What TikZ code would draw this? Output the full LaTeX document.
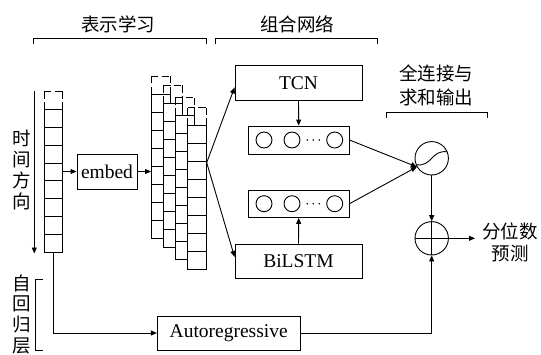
\documentclass[tikz,border=0pt]{standalone}
\usepackage{fontspec}
\setmainfont{Liberation Serif}
\newfontfamily\cjk{Noto Sans CJK SC}
\usetikzlibrary{arrows.meta,calc}
\begin{document}
\begin{tikzpicture}[x=1pt,y=-1pt,
  ln/.style={line width=0.9pt},
  arr/.style={line width=0.9pt,-{Triangle[length=6pt,width=5pt]}},
  box/.style={draw,line width=0.9pt,inner sep=0pt,font=\fontsize{19.5}{20}\selectfont},
  cell/.style={draw,line width=0.9pt,fill=white},
  dsh/.style={line width=0.9pt,dash pattern=on 7.3pt off 3.4pt},
  zh/.style={font=\cjk\fontsize{18.5}{21}\selectfont,inner sep=0pt,align=center},
  ring/.style={draw,circle,line width=0.9pt,inner sep=0pt,minimum size=33.4pt},
  dot/.style={draw,circle,line width=0.9pt,inner sep=0pt,minimum size=16pt},
]
\useasboundingbox (0,0) rectangle (541,354);

% brackets and titles
\draw[ln] (33,44) -- (33,38) -- (206,38) -- (206,44);
\node[zh] (t1) at (118,24) {表示学习};
\draw[ln] (215,44) -- (215,38) -- (377,38) -- (377,44);
\node[zh] (t2) at (297,24) {组合网络};
\draw[ln] (386.7,118) -- (386.7,112.7) -- (487.3,112.7) -- (487.3,118);
\node[zh,font=\cjk\fontsize{18.5}{24}\selectfont] (t3) at (436,85) {全连接与\\求和输出};
\draw[ln] (42.7,279) -- (35,279) -- (35,350) -- (42.7,350);
\node[zh,font=\cjk\fontsize{18.5}{20.6}\selectfont] (t4) at (21.7,314.2) {自\\回\\归\\层};

% time direction
\coordinate (ta) at (34.3,91);
\coordinate (tb) at (34.3,253.5);
\draw[arr] (ta) -- (tb);
\node[zh] (t5) at (21.7,170) {时\\间\\方\\向};

% input column
\foreach \k in {0,...,7}
  \draw[cell] (44,{109.3+17.9*\k}) rectangle (62.7,{109.3+17.9*\k+17.9});
\draw[dsh] (44,109.3) -- (44,91);
\draw[dsh] (44,91) -- (62.7,91);
\draw[dsh] (62.7,109.3) -- (62.7,91);
\coordinate (lcR) at (62.7,171.5);
\coordinate (lcB) at (53.3,252.5);

% embed
\node[box,minimum width=60pt,minimum height=35pt] (embed) at (107,171.5) {embed};
\draw[arr] (lcR) -- (embed.west);

% stacked columns
\foreach \x/\y in {151/94, 163.2/103.3, 175.4/115.5, 187.7/125.7} {
  \foreach \k in {0,...,7}
    \draw[cell] (\x,{\y+18*\k}) rectangle ({\x+19},{\y+18*\k+18});
  \draw[dsh] (\x,\y) -- (\x,{\y-18});
  \draw[dsh] (\x,{\y-18}) -- ({\x+19},{\y-18});
  \draw[dsh] ({\x+19},\y) -- ({\x+19},{\y-18});
}
\coordinate (c1L) at (151,171.5);
\draw[arr] (embed.east) -- (c1L);
\coordinate (cR) at (206.7,162.7);

% TCN / BiLSTM
\node[box,minimum width=127pt,minimum height=34.3pt] (tcn) at (298.5,82.8) {TCN};
\node[box,minimum width=127pt,minimum height=34.3pt] (bilstm) at (298.5,261.2) {BiLSTM};
\draw[arr] (cR) -- ($(tcn.south west)+(0,-13)$);
\draw[arr] (cR) -- ($(bilstm.north west)+(0,13.3)$);

% hidden layers
\node[box,minimum width=100.7pt,minimum height=28pt] (hT) at (298.7,140) {};
\node[box,minimum width=100.7pt,minimum height=27.5pt] (hB) at (298.7,203.7) {};
\foreach \h in {hT,hB} {
  \node[dot] (\h a) at ($(\h.center)+(-34.7,0)$) {};
  \node[dot] (\h b) at ($(\h.center)+(-6.7,0)$) {};
  \node[dot] (\h c) at ($(\h.center)+(36,0)$) {};
  \foreach \dx in {8.5,14.5,20.5}
    \fill ($(\h.center)+(\dx,0)$) circle (0.9pt);
}
\draw[arr] (tcn.south) -- (hT.north);
\draw[arr] (bilstm.north) -- (hB.south);

% sigmoid and sum
\node[ring] (sig) at (431.7,158.3) {};
\draw[ln] ($(sig.center)+(-15.5,6.5)$) .. controls ($(sig.center)+(1,8.5)$) and ($(sig.center)+(-1,-8.5)$) .. ($(sig.center)+(15.5,-6.5)$);
\node[ring] (sum) at (431.7,238.3) {};
\draw[ln] (sum.north) -- (sum.south) (sum.west) -- (sum.east);
\draw[arr] (hT.east) -- (sig.210);
\draw[arr] (hB.east) -- (sig.210);
\draw[arr] (sig.south) -- (sum.north);

\node[zh,font=\cjk\fontsize{18.5}{22}\selectfont] (out) at (510,242) {分位数\\预测};
\coordinate (oT) at (475,238.3);
\draw[arr] (sum.east) -- (oT);

% autoregressive
\node[box,minimum width=142.7pt,minimum height=34pt] (ar) at (228.7,333) {Autoregressive};
\draw[arr] (lcB) |- (ar.west);
\draw[arr] (ar.east) -| (sum.south);
\end{tikzpicture}
\end{document}
